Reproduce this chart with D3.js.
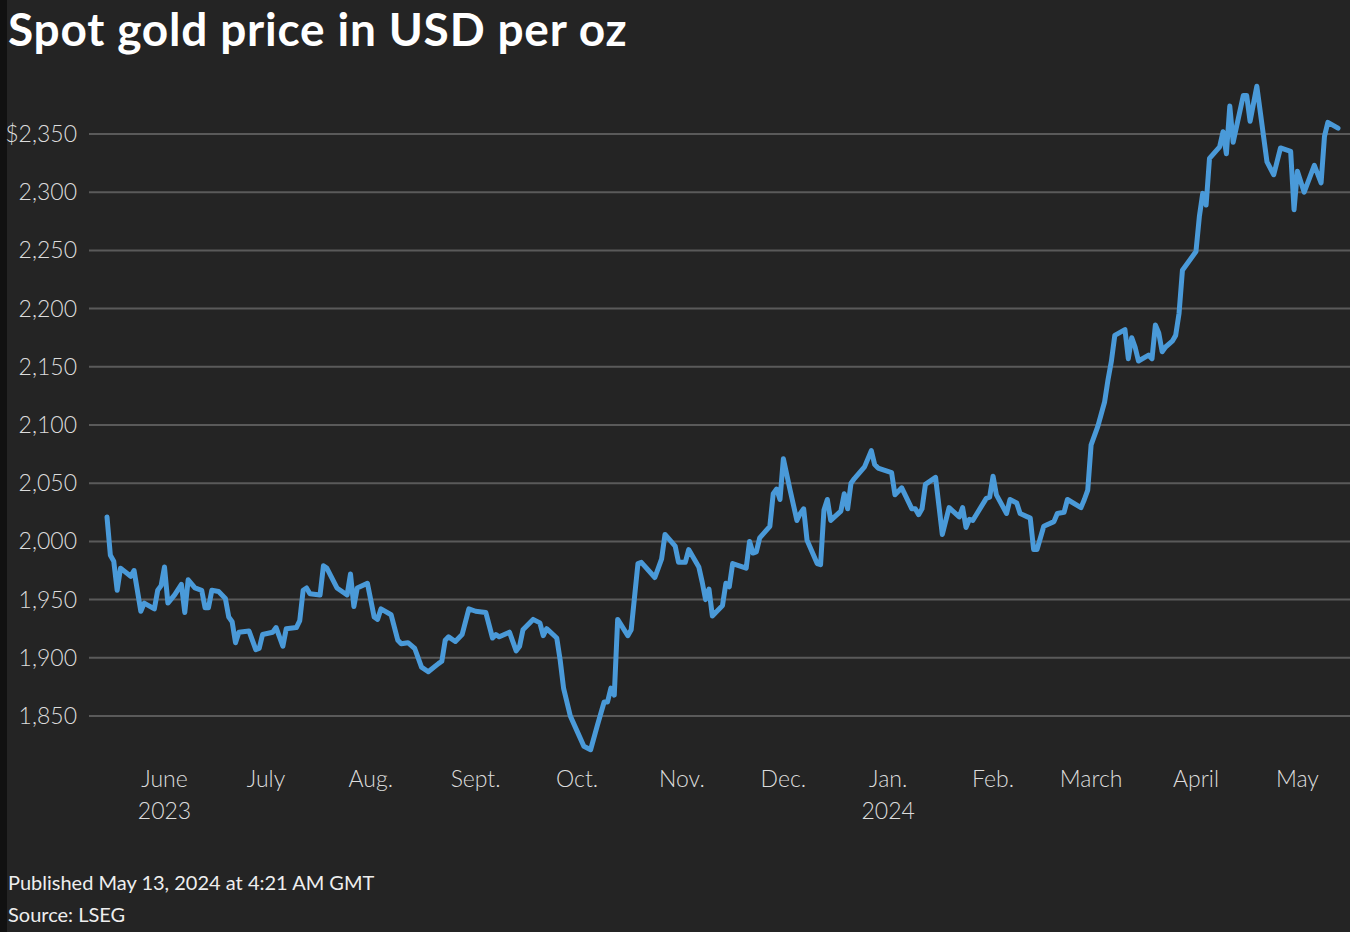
<!DOCTYPE html>
<html lang="en">
<head>
    <meta charset="UTF-8">
    <title>Spot gold price in USD per oz</title>
    <script src="https://cdnjs.cloudflare.com/ajax/libs/d3/7.8.5/d3.min.js"></script>
    <style>
        body {
            margin: 0;
            padding: 0;
            background: #242424;
            font-family: Lato, "Noto Sans", sans-serif;
        }
        #chart {
            width: 1350px;
            height: 932px;
        }
        .grid line {
            stroke: #5a5a5a;
            stroke-width: 2px;
        }
        .price {
            fill: none;
            stroke: #4a9ad9;
            stroke-width: 5px;
            stroke-linejoin: round;
            stroke-linecap: round;
        }
    </style>
</head>
<body>
    <div id="chart"></div>

    <script>
        // Trading days (approximate)
        const dates = [
            "2023-05-15","2023-05-16","2023-05-17","2023-05-18","2023-05-19","2023-05-22","2023-05-23","2023-05-25","2023-05-26","2023-05-29",
            "2023-05-30","2023-05-31","2023-06-01","2023-06-02","2023-06-04","2023-06-06","2023-06-07","2023-06-08","2023-06-10","2023-06-12",
            "2023-06-13","2023-06-14","2023-06-15","2023-06-17","2023-06-19","2023-06-20","2023-06-21","2023-06-22","2023-06-23","2023-06-26",
            "2023-06-28","2023-06-29","2023-06-30","2023-07-03","2023-07-04","2023-07-06","2023-07-07","2023-07-10","2023-07-11","2023-07-12",
            "2023-07-13","2023-07-14","2023-07-17","2023-07-18","2023-07-19","2023-07-22","2023-07-25","2023-07-26","2023-07-27","2023-07-28",
            "2023-07-31","2023-08-02","2023-08-03","2023-08-04","2023-08-07","2023-08-09","2023-08-10","2023-08-12","2023-08-14","2023-08-16",
            "2023-08-18","2023-08-21","2023-08-22","2023-08-23","2023-08-24","2023-08-26","2023-08-28","2023-08-30","2023-09-01","2023-09-04",
            "2023-09-06","2023-09-07","2023-09-08","2023-09-11","2023-09-13","2023-09-14","2023-09-15","2023-09-18","2023-09-20","2023-09-21",
            "2023-09-22","2023-09-25","2023-09-26","2023-09-27","2023-09-29","2023-10-01","2023-10-03","2023-10-05","2023-10-07","2023-10-09",
            "2023-10-10","2023-10-11","2023-10-12","2023-10-13","2023-10-16","2023-10-17","2023-10-19","2023-10-20","2023-10-24","2023-10-26",
            "2023-10-27","2023-10-30","2023-10-31","2023-11-02","2023-11-03","2023-11-06","2023-11-07","2023-11-08","2023-11-09","2023-11-10",
            "2023-11-13","2023-11-14","2023-11-15","2023-11-16","2023-11-20","2023-11-21","2023-11-22","2023-11-23","2023-11-24","2023-11-27",
            "2023-11-28","2023-11-29","2023-11-30","2023-12-01","2023-12-03","2023-12-05","2023-12-06","2023-12-07","2023-12-08","2023-12-11",
            "2023-12-12","2023-12-13","2023-12-14","2023-12-15","2023-12-18","2023-12-19","2023-12-20","2023-12-21","2023-12-22","2023-12-25",
            "2023-12-27","2023-12-28","2023-12-29","2024-01-02","2024-01-03","2024-01-05","2024-01-08","2024-01-09","2024-01-10","2024-01-11",
            "2024-01-12","2024-01-15","2024-01-17","2024-01-19","2024-01-22","2024-01-23","2024-01-24","2024-01-25","2024-01-26","2024-01-30",
            "2024-01-31","2024-02-01","2024-02-02","2024-02-05","2024-02-06","2024-02-08","2024-02-09","2024-02-12","2024-02-13","2024-02-14",
            "2024-02-16","2024-02-19","2024-02-20","2024-02-22","2024-02-23","2024-02-27","2024-02-28","2024-02-29","2024-03-01","2024-03-03",
            "2024-03-05","2024-03-06","2024-03-07","2024-03-08","2024-03-11","2024-03-12","2024-03-13","2024-03-14","2024-03-15","2024-03-18",
            "2024-03-19","2024-03-20","2024-03-21","2024-03-22","2024-03-23","2024-03-25","2024-03-26","2024-03-27","2024-03-28","2024-04-01",
            "2024-04-02","2024-04-03","2024-04-04","2024-04-05","2024-04-08","2024-04-09","2024-04-10","2024-04-11","2024-04-12","2024-04-15",
            "2024-04-16","2024-04-17","2024-04-19","2024-04-22","2024-04-24","2024-04-26","2024-04-29","2024-04-30","2024-05-01","2024-05-03",
            "2024-05-06","2024-05-08","2024-05-09","2024-05-10","2024-05-13"
        ];
        const prices = [
            2021,1988,1983,1958,1977,1970,1975,1940,1947,1942,
            1958,1962,1978,1947,1954,1963,1939,1967,1960,1958,
            1943,1943,1958,1957,1951,1935,1931,1913,1922,1923,
            1907,1908,1920,1922,1926,1910,1925,1926,1932,1958,
            1960,1955,1954,1979,1977,1960,1954,1972,1944,1960,
            1964,1935,1933,1942,1937,1915,1912,1913,1908,1892,
            1888,1895,1897,1915,1918,1914,1920,1942,1940,1939,
            1917,1920,1918,1922,1906,1910,1924,1933,1930,1919,
            1925,1917,1898,1874,1850,1837,1824,1821,1842,1862,
            1862,1874,1868,1933,1919,1924,1981,1982,1969,1985,
            2006,1996,1982,1982,1993,1978,1965,1950,1959,1936,
            1945,1964,1961,1981,1977,2000,1990,1991,2003,2013,
            2041,2045,2036,2071,2044,2018,2024,2028,2001,1981,
            1980,2027,2036,2018,2026,2041,2028,2050,2054,2064,
            2078,2066,2063,2059,2040,2046,2028,2028,2023,2028,
            2049,2055,2006,2029,2021,2029,2012,2019,2018,2037,
            2038,2056,2040,2024,2036,2033,2024,2020,1993,1993,
            2013,2017,2024,2025,2036,2029,2036,2044,2083,2099,
            2120,2139,2155,2177,2182,2157,2175,2167,2155,2160,
            2157,2186,2179,2163,2167,2172,2177,2196,2233,2249,
            2279,2299,2289,2329,2339,2352,2333,2374,2343,2383,
            2383,2361,2391,2326,2315,2338,2335,2285,2318,2300,
            2323,2308,2348,2360,2355
        ];

        const yTicks = [1850, 1900, 1950, 2000, 2050, 2100, 2150, 2200, 2250, 2300, 2350];
        const monthTicks = ["2023-06-01","2023-07-01","2023-08-01","2023-09-01","2023-10-01","2023-11-01",
                            "2023-12-01","2024-01-01","2024-02-01","2024-03-01","2024-04-01","2024-05-01"];
        const monthLabels = ["June","July","Aug.","Sept.","Oct.","Nov.","Dec.","Jan.","Feb.","March","April","May"];
        const yearLabels = {"2023-06-01": "2023", "2024-01-01": "2024"};

        const width = 1350;
        const height = 932;
        const parse = d3.timeParse("%Y-%m-%d");

        const data = dates.map((d, i) => ({date: parse(d), value: prices[i]}));

        const svg = d3.select('#chart')
            .append('svg')
            .attr('width', width)
            .attr('height', height);

        // background + thin dark strip on the left edge
        svg.append('rect')
            .attr('width', width).attr('height', height)
            .attr('fill', '#242424');
        svg.append('rect')
            .attr('width', 7).attr('height', height)
            .attr('fill', '#111');

        const x = d3.scaleTime()
            .domain([parse("2023-05-15"), parse("2024-05-13")])
            .range([107, 1338]);

        const y = d3.scaleLinear()
            .domain([1850, 2350])
            .range([716, 134]);

        // Title
        svg.append('text')
            .attr('x', 8)
            .attr('y', 46)
            .attr('fill', '#fff')
            .style('font-size', '46px')
            .style('font-weight', 700)
            .style('letter-spacing', '0.8px')
            .text('Spot gold price in USD per oz');

        // Gridlines
        svg.append('g')
            .attr('class', 'grid')
            .selectAll('line')
            .data(yTicks)
            .join('line')
            .attr('x1', 89)
            .attr('x2', width)
            .attr('y1', d => y(d))
            .attr('y2', d => y(d));

        // Y labels
        const fmt = d3.format(',');
        svg.append('g')
            .selectAll('text')
            .data(yTicks)
            .join('text')
            .attr('x', 77)
            .attr('y', d => y(d))
            .attr('dy', '0.35em')
            .attr('text-anchor', 'end')
            .attr('fill', '#dcdcdc')
            .style('font-size', '23px')
            .style('font-weight', 300)
            .text(d => d === 2350 ? '$' + fmt(d) : fmt(d));

        // X labels
        const xg = svg.append('g');
        xg.selectAll('text.month')
            .data(monthTicks)
            .join('text')
            .attr('class', 'month')
            .attr('x', d => x(parse(d)))
            .attr('y', 787)
            .attr('text-anchor', 'middle')
            .attr('fill', '#dcdcdc')
            .style('font-size', '23px')
            .style('font-weight', 300)
            .text((d, i) => monthLabels[i]);

        xg.selectAll('text.year')
            .data(monthTicks.filter(d => yearLabels[d]))
            .join('text')
            .attr('class', 'year')
            .attr('x', d => x(parse(d)))
            .attr('y', 819)
            .attr('text-anchor', 'middle')
            .attr('fill', '#dcdcdc')
            .style('font-size', '23px')
            .style('font-weight', 300)
            .text(d => yearLabels[d]);

        // Price line
        const line = d3.line()
            .x(d => x(d.date))
            .y(d => y(d.value));

        svg.append('path')
            .datum(data)
            .attr('class', 'price')
            .attr('d', line);

        // Footer
        svg.append('text')
            .attr('x', 8)
            .attr('y', 890)
            .attr('fill', '#eee')
            .style('font-size', '20px')
            .text('Published May 13, 2024 at 4:21 AM GMT');

        svg.append('text')
            .attr('x', 8)
            .attr('y', 922)
            .attr('fill', '#eee')
            .style('font-size', '20px')
            .text('Source: LSEG');
    </script>
</body>
</html>
